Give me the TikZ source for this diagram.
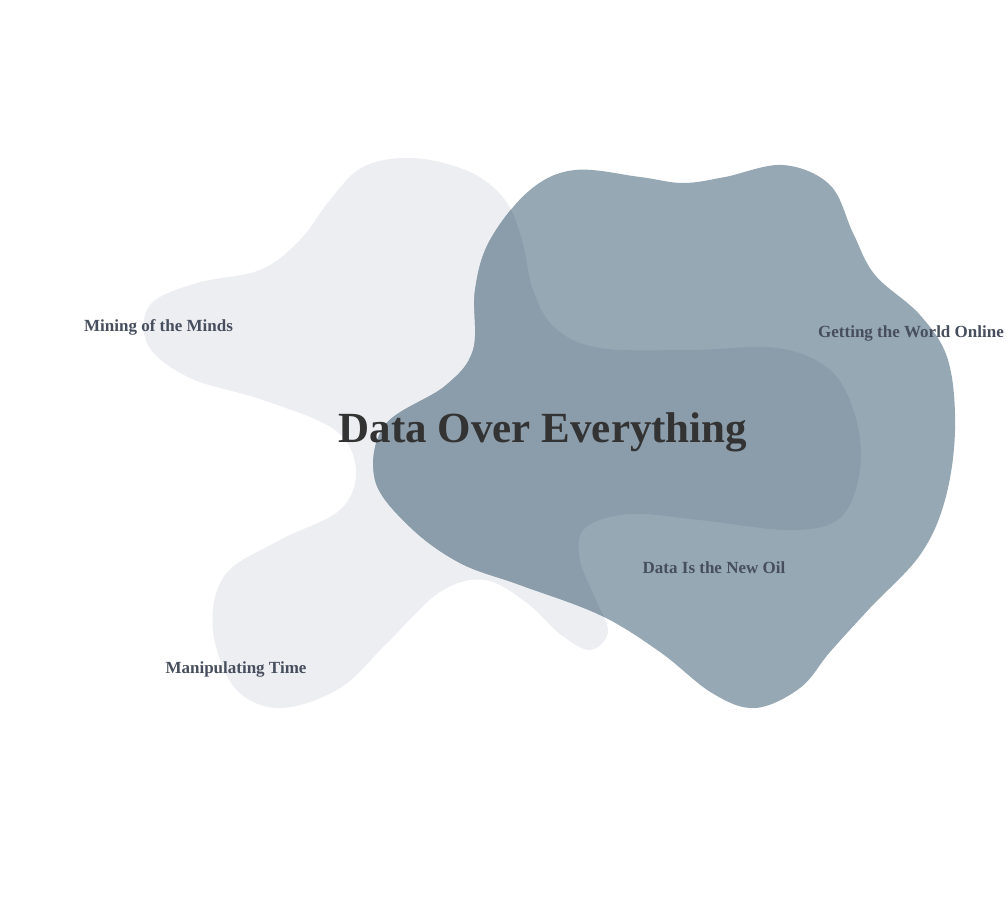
\documentclass[tikz,border=0pt]{standalone}
\usepackage{fontspec}
\setmainfont{Liberation Serif}
\definecolor{blobgray}{HTML}{EDEEF2}
\definecolor{blobblue}{HTML}{96A8B4}
\definecolor{blobover}{HTML}{8B9DAB}
\definecolor{titlecol}{HTML}{333333}
\definecolor{labelcol}{HTML}{474E5D}
\tikzset{
  titletext/.style={font=\fontsize{43}{43}\selectfont\bfseries, text=titlecol, anchor=base, inner sep=0pt},
  labeltext/.style={font=\fontsize{17}{17}\selectfont\bfseries, text=labelcol, anchor=base, inner sep=0pt}
}
\def\graypath{plot[smooth cycle, tension=0.6] coordinates {(413,158) (470,172) (505,200) (522,240) (533,290) (555,328) (600,348) (690,350) (777,348) (830,370) (855,415) (860,470) (840,518) (790,530) (700,520) (630,514) (585,528) (580,560) (596,600) (608,632) (590,650) (560,634) (527,603) (485,580) (440,592) (387,643) (340,688) (280,708) (235,688) (213,630) (225,575) (280,540) (340,510) (356,470) (335,430) (263,400) (190,378) (148,345) (150,305) (197,283) (260,270) (300,240) (330,200) (363,167)}}
\def\bluepath{plot[smooth cycle, tension=0.6] coordinates {(575,170) (640,177) (683,183) (725,177) (783,165) (830,185) (853,233) (875,275) (920,315) (948,360) (955,430) (945,500) (920,555) (870,608) (830,652) (800,688) (755,708) (712,693) (660,652) (600,615) (520,585) (460,563) (410,527) (375,480) (385,425) (445,386) (473,350) (475,290) (490,240) (530,190)}}
\begin{document}
\begin{tikzpicture}[x=1pt,y=-1pt]
  \fill[white] (0,0) rectangle (1007,905);
  \useasboundingbox (0,0) rectangle (1007,905);
  \fill[blobgray] \graypath;
  \fill[blobblue] \bluepath;
  \begin{scope}
    \clip \bluepath;
    \fill[blobover] \graypath;
  \end{scope}
  \node[titletext] (title) at (543,442) {Data Over Everything};
  \node[labeltext] (minds) at (158.5,331) {Mining of the Minds};
  \node[labeltext] (online) at (911,337) {Getting the World Online};
  \node[labeltext] (oil) at (714,573) {Data Is the New Oil};
  \node[labeltext] (time) at (236,673) {Manipulating Time};
\end{tikzpicture}
\end{document}
